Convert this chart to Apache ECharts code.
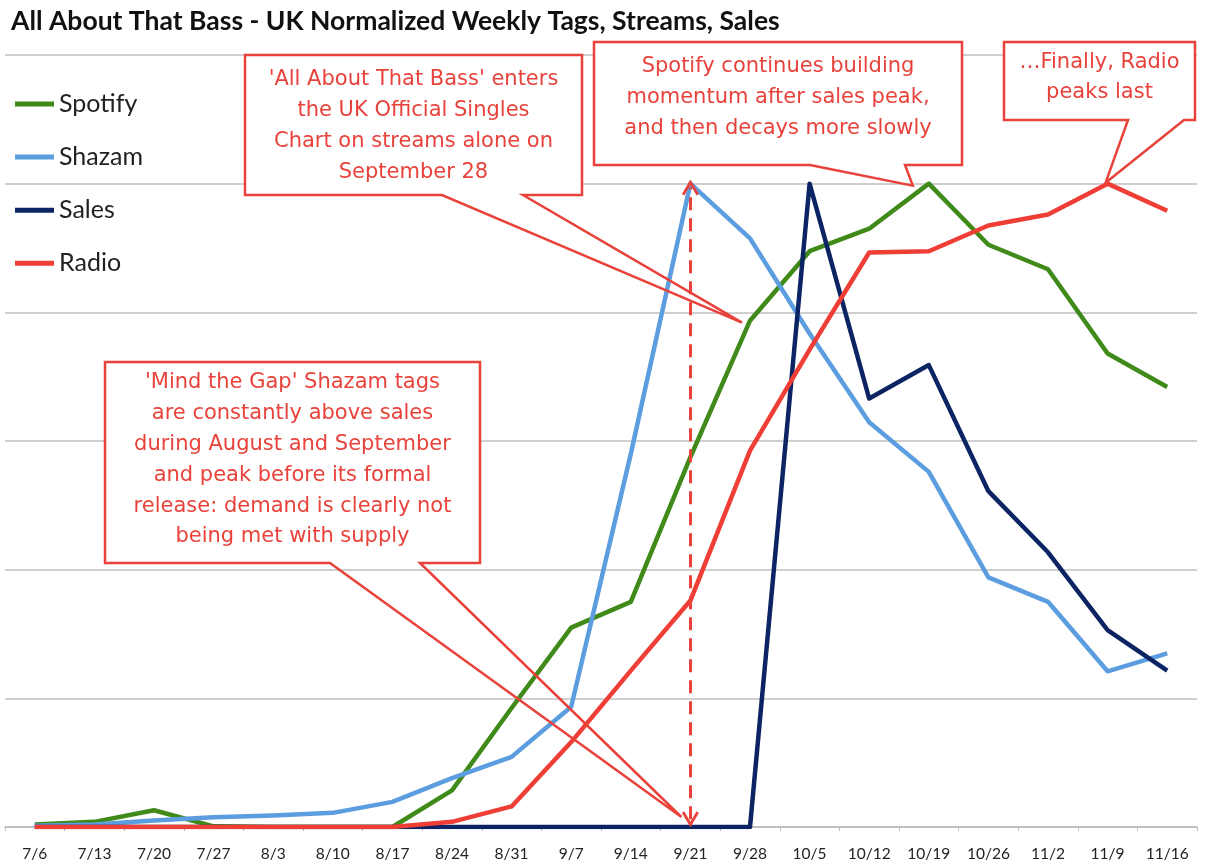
<!DOCTYPE html>
<html>
<head>
<meta charset="utf-8">
<script src="https://cdn.jsdelivr.net/npm/echarts@6.0.0/dist/echarts.min.js"></script>
<style>
  html, body { margin: 0; padding: 0; background: #fff; }
  #chart { width: 1221px; height: 865px; }
</style>
</head>
<body>
<div id="chart"></div>
<script>
// weeks, normalized so every series peaks at 100
const weeks = ['7/6', '7/13', '7/20', '7/27', '8/3', '8/10', '8/17', '8/24', '8/31', '9/7',
  '9/14', '9/21', '9/28', '10/5', '10/12', '10/19', '10/26', '11/2', '11/9', '11/16'];
const spotify = [0.4, 0.8, 2.6, 0.1, 0, 0, 0, 5.7, 18.5, 31, 35, 57.5, 78.7, 89.5, 93, 100, 90.5, 86.7, 73.6, 68.4];
const shazam = [0.2, 0.4, 1.0, 1.5, 1.8, 2.2, 3.9, 7.6, 10.9, 18.7, 58, 100, 91.5, 76.7, 62.9, 55.2, 38.8, 35, 24.2, 27];
const sales = [0, 0, 0, 0, 0, 0, 0, 0, 0, 0, 0, 0, 0, 100, 66.6, 71.8, 52.2, 42.7, 30.6, 24.3];
const radio = [0, 0, 0, 0, 0, 0, 0, 0.8, 3.2, 13.2, 24.3, 35.2, 58.5, 74.2, 89.3, 89.5, 93.5, 95.2, 100, 95.8];

const RED = '#e8423b';
const FONT = 'Lato, "Open Sans", sans-serif';
const NOTE_FONT = '"DejaVu Sans", "Open Sans", sans-serif';
const ARROW = 'path://M5,0 L10,9 L8.6,10 L5,3.4 L1.4,10 L0,9 Z';

const chart = echarts.init(document.getElementById('chart'));

const lineSeries = (name, data, color) => ({
  name,
  type: 'line',
  data,
  symbol: 'none',
  lineStyle: { width: 4.5, color, join: 'round' },
  itemStyle: { color },
  emphasis: { disabled: true },
});

chart.setOption({
  animation: false,
  backgroundColor: '#fff',
  title: {
    text: 'All About That Bass - UK Normalized Weekly Tags, Streams, Sales',
    left: 6,
    top: 3,
    textStyle: { fontSize: 26.5, fontWeight: 'bold', color: '#111', fontFamily: FONT },
  },
  legend: {
    orient: 'vertical',
    left: 15,
    top: 91.5,
    padding: 0,
    itemWidth: 39,
    itemHeight: 5,
    itemGap: 28.1,
    icon: 'rect',
    textStyle: { fontSize: 25, lineHeight: 24, color: '#222', fontFamily: FONT },
    data: ['Spotify', 'Shazam', 'Sales', 'Radio'],
  },
  grid: { left: 5, right: 24, top: 55, bottom: 38 },
  xAxis: {
    type: 'category',
    data: weeks,
    boundaryGap: true,
    axisLine: { lineStyle: { color: '#bdbdbd', width: 1.5 } },
    axisTick: { show: true, length: 4, lineStyle: { color: '#bdbdbd' } },
    axisLabel: { fontSize: 15.5, color: '#222', fontFamily: FONT, margin: 19 },
  },
  yAxis: {
    type: 'value',
    min: 0,
    max: 120,
    interval: 20,
    axisLine: { show: false },
    axisTick: { show: false },
    axisLabel: { show: false },
    splitLine: { lineStyle: { color: '#cfcfcf', width: 2 } },
  },
  series: [
    lineSeries('Spotify', spotify, '#3f8a19'),
    lineSeries('Shazam', shazam, '#5b9ddf'),
    lineSeries('Sales', sales, '#0c2463'),
    Object.assign(lineSeries('Radio', radio, '#ee3e36'), {
      markLine: {
        silent: true,
        symbol: [ARROW, ARROW],
        symbolSize: [17, 16],
        label: { show: false },
        lineStyle: { color: RED, width: 3, type: [13, 8] },
        data: [[{ coord: ['9/21', 1.2] }, { coord: ['9/21', 99.4] }]],
      },
    }),
  ],
});

// callout boxes: box in pixels, tail anchored to a data point
const callouts = [
  {
    box: [245, 55, 582, 195], base: [442, 523], tip: ['9/28', spotify[12]], off: [-8, 2],
    text: "'All About That Bass' enters\nthe UK Official Singles\nChart on streams alone on\nSeptember 28",
    ty: 126,
  },
  {
    box: [594, 42, 962, 165], base: [810, 905], tip: ['10/19', spotify[15]], off: [-16, 2],
    text: 'Spotify continues building\nmomentum after sales peak,\nand then decays more slowly',
    ty: 97.5,
  },
  {
    box: [1004, 42, 1195, 120], base: [1128, 1184], tip: ['11/9', radio[18]], off: [-2, -1],
    text: '…Finally, Radio\npeaks last',
    ty: 77.5,
  },
  {
    box: [105, 362, 480, 563], base: [330, 420], tip: ['9/21', 0], off: [-9, -10],
    text: "'Mind the Gap' Shazam tags\nare constantly above sales\nduring August and September\nand peak before its formal\nrelease: demand is clearly not\nbeing met with supply",
    ty: 460,
  },
];

const graphics = [];
callouts.forEach((c) => {
  const [x1, y1, x2, y2] = c.box;
  const p = chart.convertToPixel({ gridIndex: 0 }, c.tip);
  const tip = [p[0] + c.off[0], p[1] + c.off[1]];
  graphics.push({
    type: 'rect', z: 100, silent: true,
    shape: { x: x1, y: y1, width: x2 - x1, height: y2 - y1 },
    style: { fill: '#fff' },
  });
  graphics.push({
    type: 'polygon', z: 101, silent: true,
    shape: { points: [[x1, y1], [x2, y1], [x2, y2], [c.base[1], y2], tip, [c.base[0], y2], [x1, y2]] },
    style: { fill: 'none', stroke: RED, lineWidth: 2.5, lineJoin: 'miter' },
  });
  graphics.push({
    type: 'text', z: 102, silent: true,
    style: {
      text: c.text, x: (x1 + x2) / 2, y: c.ty,
      align: 'center', verticalAlign: 'middle',
      fill: RED, fontSize: 21, fontFamily: NOTE_FONT, lineHeight: 30.8,
    },
  });
});

chart.setOption({ graphic: graphics });
</script>
</body>
</html>
